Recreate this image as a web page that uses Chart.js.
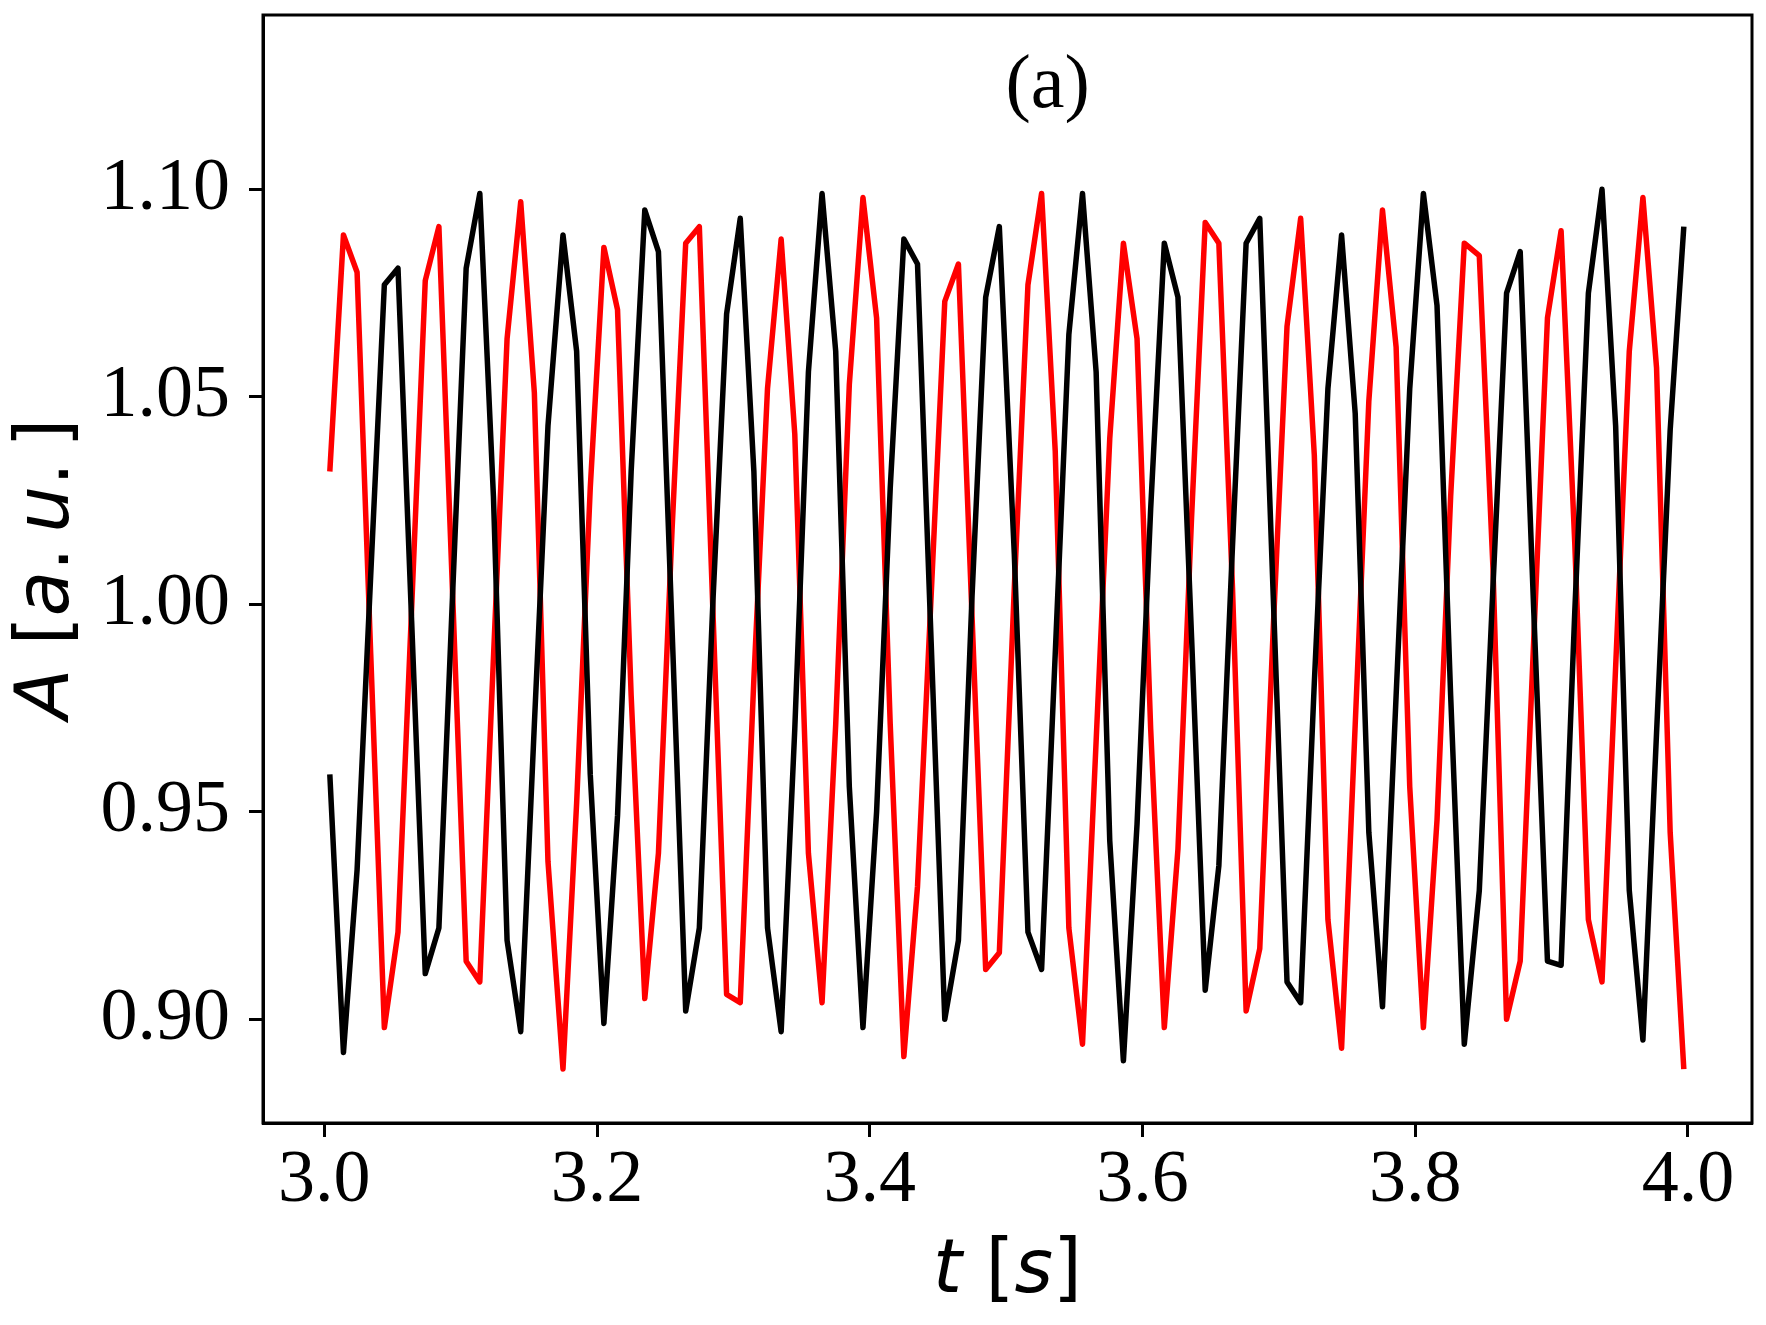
<!DOCTYPE html>
<html>
<head>
<meta charset="utf-8">
<title>A(t)</title>
<script src="https://cdn.jsdelivr.net/npm/chart.js@4.4.1/dist/chart.umd.min.js"></script>
<style>
  html, body { margin: 0; padding: 0; background: #fff; }
  canvas { display: block; }
</style>
</head>
<body>
<canvas id="chart" width="1766" height="1325"></canvas>
<script>
// time samples [s]
const T = [
  3.004, 3.014, 3.024, 3.034, 3.044, 3.054, 3.064, 3.074, 3.084, 3.094,
  3.104, 3.114, 3.124, 3.134, 3.144, 3.154, 3.164, 3.175, 3.185, 3.195,
  3.205, 3.215, 3.225, 3.235, 3.245, 3.255, 3.265, 3.275, 3.285, 3.295,
  3.305, 3.315, 3.325, 3.335, 3.345, 3.355, 3.365, 3.375, 3.385, 3.395,
  3.405, 3.415, 3.425, 3.435, 3.445, 3.455, 3.465, 3.475, 3.485, 3.495,
  3.506, 3.516, 3.526, 3.536, 3.546, 3.556, 3.566, 3.576, 3.586, 3.596,
  3.606, 3.616, 3.626, 3.636, 3.646, 3.656, 3.666, 3.676, 3.686, 3.696,
  3.706, 3.716, 3.726, 3.736, 3.746, 3.756, 3.766, 3.776, 3.786, 3.796,
  3.806, 3.816, 3.826, 3.836, 3.847, 3.857, 3.867, 3.877, 3.887, 3.897,
  3.907, 3.917, 3.927, 3.937, 3.947, 3.957, 3.967, 3.977, 3.987, 3.997
];

// amplitude, black trace
const A_BLACK = [
  0.959, 0.892, 0.936, 1.007, 1.077, 1.081, 0.996, 0.911, 0.922, 1.002,
  1.081, 1.099, 1.026, 0.919, 0.897, 0.971, 1.043, 1.089, 1.061, 0.959,
  0.899, 0.949, 1.032, 1.095, 1.085, 0.994, 0.902, 0.922, 1.001, 1.070,
  1.093, 1.032, 0.922, 0.897, 0.970, 1.056, 1.099, 1.061, 0.956, 0.898,
  0.950, 1.028, 1.088, 1.082, 0.991, 0.900, 0.919, 1.002, 1.074, 1.091,
  1.012, 0.921, 0.912, 0.988, 1.065, 1.099, 1.056, 0.943, 0.890, 0.947,
  1.023, 1.087, 1.074, 0.992, 0.907, 0.937, 1.014, 1.087, 1.093, 1.001,
  0.909, 0.904, 0.981, 1.052, 1.089, 1.046, 0.945, 0.903, 0.978, 1.052,
  1.099, 1.072, 0.978, 0.894, 0.931, 1.004, 1.075, 1.085, 0.998, 0.914,
  0.913, 0.998, 1.075, 1.100, 1.043, 0.931, 0.895, 0.969, 1.042, 1.091
];

// amplitude, red trace
const A_RED = [
  1.032, 1.089, 1.080, 0.988, 0.898, 0.921, 0.999, 1.078, 1.091, 1.003,
  0.914, 0.909, 0.987, 1.064, 1.097, 1.051, 0.938, 0.888, 0.952, 1.028,
  1.086, 1.071, 0.978, 0.905, 0.940, 1.018, 1.087, 1.091, 0.998, 0.906,
  0.904, 0.982, 1.052, 1.088, 1.041, 0.940, 0.904, 0.971, 1.053, 1.098,
  1.069, 0.971, 0.891, 0.932, 1.002, 1.073, 1.082, 0.997, 0.912, 0.916,
  1.004, 1.077, 1.099, 1.037, 0.922, 0.894, 0.967, 1.040, 1.087, 1.064,
  0.970, 0.898, 0.941, 1.021, 1.092, 1.087, 1.004, 0.902, 0.917, 0.995,
  1.067, 1.093, 1.036, 0.924, 0.893, 0.971, 1.049, 1.095, 1.062, 0.956,
  0.898, 0.948, 1.026, 1.087, 1.084, 1.009, 0.900, 0.914, 0.992, 1.069,
  1.090, 1.015, 0.924, 0.909, 0.985, 1.061, 1.098, 1.057, 0.945, 0.888
];

const X_TICKS = [3.0, 3.2, 3.4, 3.6, 3.8, 4.0];
const Y_TICKS = [0.90, 0.95, 1.00, 1.05, 1.10];

const SERIF = '"Liberation Serif", "Times New Roman", serif';
const SANS = '"DejaVu Sans", sans-serif';

const toPoints = (ys) => T.map((t, i) => ({ x: t, y: ys[i] }));

// mathtext-like label: italic letters, upright brackets
function drawMath(ctx, parts, cx, y, size) {
  const fontOf = (it) => (it ? "italic " : "") + size + "px " + SANS;
  let total = 0;
  parts.forEach(([s, it]) => {
    ctx.font = fontOf(it);
    total += ctx.measureText(s).width;
  });
  let x = cx - total / 2;
  ctx.textAlign = "left";
  parts.forEach(([s, it]) => {
    ctx.font = fontOf(it);
    ctx.fillText(s, x, y);
    x += ctx.measureText(s).width;
  });
}

// box, axis titles and panel label
const framePlugin = {
  id: "frame",
  afterDraw(chart) {
    const { ctx, chartArea: a } = chart;
    ctx.save();
    ctx.strokeStyle = "#000";
    ctx.lineWidth = 3;
    ctx.strokeRect(a.left, a.top, a.right - a.left, a.bottom - a.top);

    ctx.fillStyle = "#000";
    ctx.textBaseline = "alphabetic";

    ctx.textAlign = "center";
    ctx.font = "76px " + SERIF;
    ctx.fillText("(a)", a.left + 0.527 * (a.right - a.left), 107);

    drawMath(
      ctx,
      [["t", true], [" ", false], ["[", false], ["s", true], ["]", false]],
      (a.left + a.right) / 2,
      1292,
      74
    );

    ctx.translate(68, (a.top + a.bottom) / 2);
    ctx.rotate(-Math.PI / 2);
    drawMath(
      ctx,
      [
        ["A", true], [" ", false], ["[", false],
        ["a", true], [".", false], ["\u2009", false],
        ["u", true], [".", false], ["\u2009", false], ["]", false],
      ],
      0,
      0,
      74
    );
    ctx.restore();
  },
};

const chart = new Chart(document.getElementById("chart"), {
  type: "line",
  data: {
    datasets: [
      {
        data: toPoints(A_BLACK),
        borderColor: "#000000",
        borderWidth: 5.5,
        order: 0,
      },
      {
        data: toPoints(A_RED),
        borderColor: "#ff0000",
        borderWidth: 5.5,
        order: 1,
      },
    ],
  },
  options: {
    responsive: false,
    animation: false,
    devicePixelRatio: 1,
    layout: { padding: { left: 0, right: 14, top: 15, bottom: 0 } },
    elements: {
      point: { radius: 0 },
      line: {
        tension: 0,
        fill: false,
        borderJoinStyle: "round",
        borderCapStyle: "butt",
      },
    },
    plugins: {
      legend: { display: false },
      tooltip: { enabled: false },
    },
    scales: {
      x: {
        type: "linear",
        min: 2.955,
        max: 4.047,
        afterBuildTicks: (s) => {
          s.ticks = X_TICKS.map((v) => ({ value: v }));
        },
        afterFit: (s) => {
          s.height = 202;
          s.paddingLeft = 0;
          s.paddingRight = 0;
        },
        ticks: {
          callback: (v) => Number(v).toFixed(1),
          color: "#000",
          font: { family: SERIF, size: 74 },
          padding: 0,
          maxRotation: 0,
          autoSkip: false,
        },
        grid: {
          drawOnChartArea: false,
          drawTicks: true,
          tickLength: 14,
          tickWidth: 3,
          color: "#000",
        },
        border: { display: true, color: "#000", width: 3 },
      },
      y: {
        min: 0.875,
        max: 1.142,
        afterBuildTicks: (s) => {
          s.ticks = Y_TICKS.map((v) => ({ value: v }));
        },
        afterFit: (s) => {
          s.width = 263;
          s.paddingTop = 0;
          s.paddingBottom = 0;
        },
        ticks: {
          callback: (v) => Number(v).toFixed(2),
          color: "#000",
          font: { family: SERIF, size: 74 },
          padding: 19,
          autoSkip: false,
        },
        grid: {
          drawOnChartArea: false,
          drawTicks: true,
          tickLength: 14,
          tickWidth: 3,
          color: "#000",
        },
        border: { display: true, color: "#000", width: 3 },
      },
    },
  },
  plugins: [framePlugin],
});
</script>
</body>
</html>
